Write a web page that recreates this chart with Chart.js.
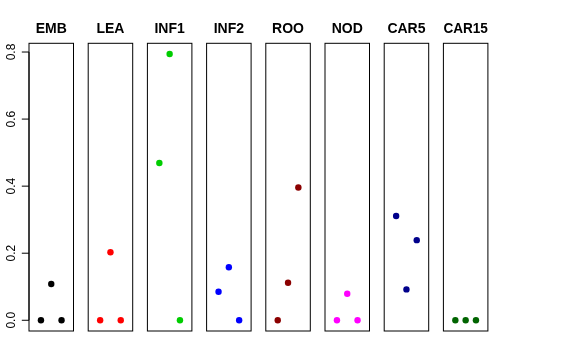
<!DOCTYPE html>
<html><head><meta charset="utf-8">
<script src="https://cdn.jsdelivr.net/npm/chart.js@4"></script>
<style>
html,body{margin:0;padding:0;background:#fff}
#wrap{position:relative;width:576px;height:360px;overflow:hidden;background:#fff}
canvas{position:absolute;top:0}
</style></head>
<body><div id="wrap"></div>
<script>
// ---- data ----
const categories = ['EMB','LEA','INF1','INF2','ROO','NOD','CAR5','CAR15'];
const xPositions = [1, 2, 3];
const embValues  = [0, 0.108, 0];
const leaValues  = [0, 0.203, 0];
const inf1Values = [0.469, 0.794, 0];
const inf2Values = [0.085, 0.158, 0];
const rooValues  = [0, 0.112, 0.396];
const nodValues  = [0, 0.079, 0];
const car5Values = [0.311, 0.092, 0.239];
const car15Values= [0, 0, 0];
const seriesValues = [embValues, leaValues, inf1Values, inf2Values, rooValues, nodValues, car5Values, car15Values];
const yTicks = [0, 0.2, 0.4, 0.6, 0.8];
const yTickLabels = ['0.0','0.2','0.4','0.6','0.8'];

// ---- styles ----
const colors = ['#000000','#FF0000','#00CD00','#0000FF','#8B0000','#FF00FF','#00008B','#006400'];
const X_MIN = -0.16, X_MAX = 4.16, Y_MIN = -0.032, Y_MAX = 0.826;
const FIRST_LEFT = 29, PITCH = 59.2, BOX_W = 44.5, BOX_BOTTOM = 331, CANVAS_H = 360;

const wrap = document.getElementById('wrap');

function framePlugin(withAxis) {
  return {
    id: 'frame',
    afterDraw(chart) {
      const ctx = chart.ctx, a = chart.chartArea;
      ctx.save();
      ctx.strokeStyle = '#000';
      ctx.lineWidth = 1;
      ctx.strokeRect(a.left, a.top, a.right - a.left, a.bottom - a.top);
      if (withAxis) {
        const ys = chart.scales.y;
        const x0 = a.left;
        ctx.beginPath();
        ctx.moveTo(x0, ys.getPixelForValue(yTicks[0]));
        ctx.lineTo(x0, ys.getPixelForValue(yTicks[yTicks.length - 1]));
        yTicks.forEach(v => {
          const py = ys.getPixelForValue(v);
          ctx.moveTo(x0, py);
          ctx.lineTo(x0 - 7.2, py);
        });
        ctx.stroke();
        ctx.fillStyle = '#000';
        ctx.font = '12px "Liberation Sans", Arial, sans-serif';
        ctx.textAlign = 'center';
        ctx.textBaseline = 'alphabetic';
        yTicks.forEach((v, k) => {
          const py = ys.getPixelForValue(v);
          ctx.save();
          ctx.translate(x0 - 14.4, py);
          ctx.rotate(-Math.PI / 2);
          ctx.fillText(yTickLabels[k], 0, 0);
          ctx.restore();
        });
      }
      ctx.restore();
    }
  };
}

categories.forEach((name, i) => {
  const boxLeft = FIRST_LEFT + PITCH * i;
  const canvasLeft = i === 0 ? 0 : Math.floor(boxLeft - 10);
  const padL = boxLeft - canvasLeft;
  const canvasW = Math.ceil(padL + BOX_W + 10);
  const padR = canvasW - padL - BOX_W;
  const cv = document.createElement('canvas');
  cv.width = canvasW; cv.height = CANVAS_H;
  cv.style.left = canvasLeft + 'px';
  cv.style.width = canvasW + 'px';
  cv.style.height = CANVAS_H + 'px';
  wrap.appendChild(cv);

  new Chart(cv, {
    type: 'scatter',
    data: {
      datasets: [{
        data: xPositions.map((x, j) => ({ x: x, y: seriesValues[i][j] })),
        backgroundColor: colors[i],
        borderColor: colors[i],
        borderWidth: 0,
        pointRadius: 3.2,
        pointHoverRadius: 3.2,
        clip: false
      }]
    },
    options: {
      responsive: false,
      animation: false,
      devicePixelRatio: 1,
      layout: { autoPadding: false, padding: { left: padL, right: padR, top: 0, bottom: CANVAS_H - BOX_BOTTOM } },
      scales: {
        x: { type: 'linear', min: X_MIN, max: X_MAX, display: false },
        y: { type: 'linear', min: Y_MIN, max: Y_MAX, display: false }
      },
      plugins: {
        legend: { display: false },
        tooltip: { enabled: false },
        title: {
          display: true,
          text: name,
          fullSize: false,
          color: '#000',
          font: { family: '"Liberation Sans", Arial, sans-serif', size: 14, weight: 'bold', lineHeight: 1.2 },
          padding: { top: 21, bottom: 5.5 }
        }
      }
    },
    plugins: [framePlugin(i === 0)]
  });
});
</script>
</body></html>
